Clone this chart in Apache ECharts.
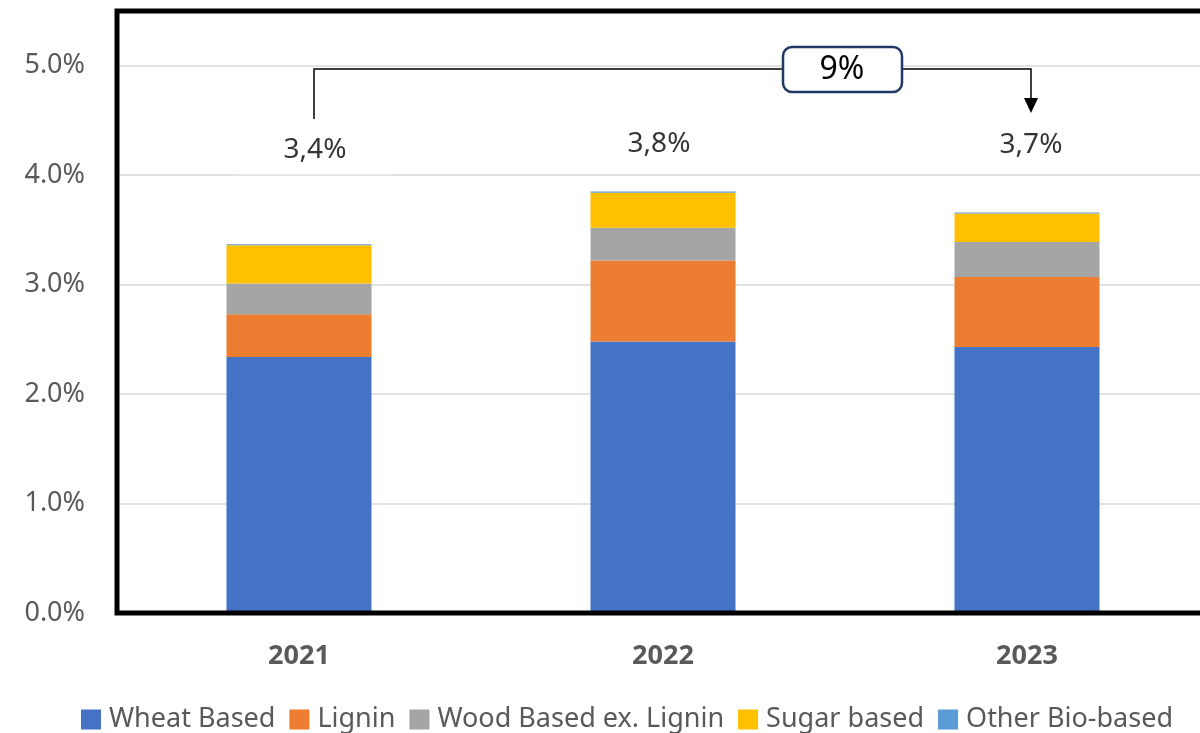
<!DOCTYPE html>
<html>
<head>
<meta charset="utf-8">
<script src="https://cdn.jsdelivr.net/npm/echarts@6/dist/echarts.min.js"></script>
<style>
html,body{margin:0;padding:0;background:#fff;overflow:hidden;width:1200px;height:733px;}
#main{width:1212px;height:733px;}
</style>
</head>
<body>
<div id="main"></div>
<script>
const categories = ['2021', '2022', '2023'];
const wheatBased = [2.34, 2.48, 2.43];
const lignin = [0.39, 0.74, 0.64];
const woodBased = [0.28, 0.30, 0.32];
const sugarBased = [0.35, 0.32, 0.26];
const otherBio = [0.01, 0.01, 0.01];
const totalLabels = ['3,4%', '3,8%', '3,7%'];
const changeLabel = '9%';
const yTicks = [0, 1, 2, 3, 4, 5];

const totals = categories.map((c, i) => wheatBased[i] + lignin[i] + woodBased[i] + sugarBased[i] + otherBio[i]);

const FONT = '"Noto Sans", "Open Sans", sans-serif';
const colors = ['#4472C4', '#ED7D31', '#A5A5A5', '#FFC000', '#5B9BD5'];
const names = ['Wheat Based', 'Lignin', 'Wood Based ex. Lignin', 'Sugar based', 'Other Bio-based'];
const dataSets = [wheatBased, lignin, woodBased, sugarBased, otherBio];

const labelOffsets = [[16, -94], [-4, -48], [4, -67]];

const GRID = {left: 117, top: 11, width: 1092, height: 602};

const chart = echarts.init(document.getElementById('main'), null, {renderer: 'canvas'});

const barSeries = names.map((n, k) => ({
  name: n,
  type: 'bar',
  stack: 'total',
  barWidth: 145,
  data: dataSets[k],
  itemStyle: {color: colors[k]},
  emphasis: {disabled: true}
}));

const option = {
  animation: false,
  textStyle: {fontFamily: FONT},
  grid: {left: GRID.left, top: GRID.top, width: GRID.width, height: GRID.height, show: false},
  legend: {
    data: names,
    top: 701,
    left: 76,
    itemWidth: 20,
    itemHeight: 20,
    itemGap: 14,
    icon: 'rect',
    textStyle: {fontSize: 27, color: '#595959', fontFamily: FONT, padding: [0, 0, 0, 3]}
  },
  xAxis: {
    type: 'category',
    data: categories,
    axisLine: {show: false},
    axisTick: {show: false},
    axisLabel: {fontSize: 27, fontWeight: 'bold', color: '#595959', margin: 30, fontFamily: FONT}
  },
  yAxis: {
    type: 'value',
    min: 0,
    max: 5.5,
    interval: 1,
    axisLine: {show: false},
    axisTick: {show: false},
    splitLine: {lineStyle: {color: '#D9D9D9', width: 1.5}},
    axisLabel: {
      fontSize: 27, color: '#595959', margin: 32, fontFamily: FONT,
      formatter: v => (yTicks.indexOf(v) >= 0 ? v.toFixed(1) + '%' : '')
    }
  },
  series: barSeries.concat([{
    name: 'Total',
    type: 'scatter',
    symbolSize: 0,
    silent: true,
    z: 10,
    data: totals.map((t, i) => ({
      value: t,
      label: {
        show: true,
        position: 'inside',
        offset: labelOffsets[i],
        formatter: totalLabels[i],
        fontSize: 28,
        color: '#000',
        fontFamily: FONT,
        backgroundColor: i === 0 ? '#fff' : 'transparent',
        padding: i === 0 ? [10, 46] : 0
      }
    }))
  }]),
  graphic: [
    {type: 'rect', z: 90, silent: true, shape: {x: GRID.left, y: GRID.top, width: GRID.width, height: GRID.height}, style: {fill: null, stroke: '#000', lineWidth: 5}},
    {type: 'polyline', z: 100, shape: {points: [[314, 119], [314, 69], [1031, 69], [1031, 100]]}, style: {stroke: '#000', lineWidth: 1.5, fill: null}},
    {type: 'polygon', z: 100, shape: {points: [[1024, 98], [1038, 98], [1031, 113]]}, style: {fill: '#000'}},
    {type: 'rect', z: 101, shape: {x: 783, y: 47, width: 119, height: 45, r: 9}, style: {fill: '#fff', stroke: '#1F3864', lineWidth: 2.5}},
    {type: 'text', z: 102, x: 842, y: 70, style: {text: changeLabel, fontSize: 32, fill: '#000', fontFamily: FONT, align: 'center', verticalAlign: 'middle'}}
  ]
};
chart.setOption(option);
</script>
</body>
</html>
